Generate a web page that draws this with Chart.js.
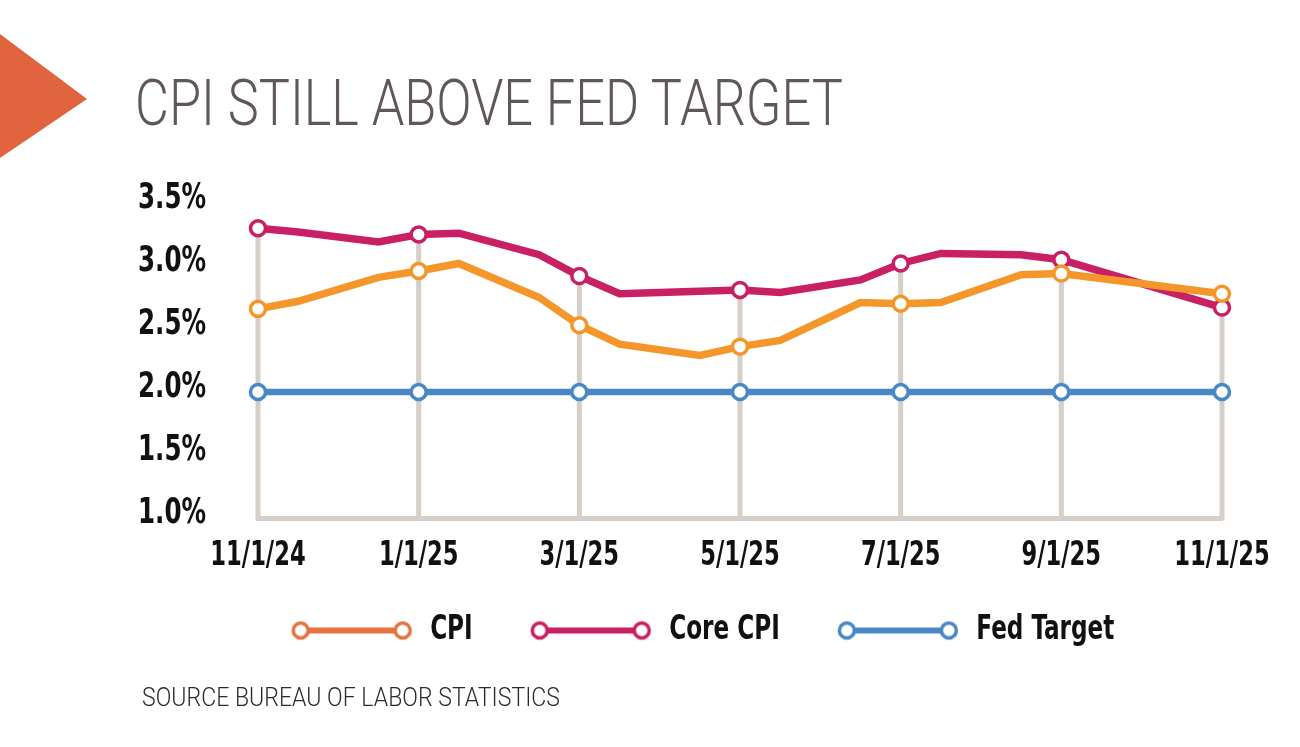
<!DOCTYPE html>
<html>
<head>
<meta charset="utf-8">
<script src="https://cdn.jsdelivr.net/npm/chart.js@4.4.0/dist/chart.umd.min.js"></script>
<style>
html,body{margin:0;padding:0;background:#fff;width:1300px;height:747px;overflow:hidden;}
#wrap{position:relative;width:1300px;height:747px;}
#tri{position:absolute;left:0;top:0;}
#title{position:absolute;left:135px;top:71px;font-family:Roboto,"Open Sans",sans-serif;font-weight:300;font-size:65px;line-height:1;color:#5f5857;white-space:nowrap;transform-origin:0 0;}
#source{position:absolute;left:142px;top:685px;font-family:Roboto,"Open Sans",sans-serif;font-weight:300;font-size:25px;line-height:1;color:#2b2b2b;white-space:nowrap;transform-origin:0 0;}
#c{position:absolute;left:0;top:0;}
</style>
</head>
<body>
<div id="wrap">
  <svg id="tri" width="100" height="170"><polygon points="0,34 87,99 0,158" fill="#E0643E"/></svg>
  <div id="title">CPI STILL ABOVE FED TARGET</div>
  <canvas id="c" width="1300" height="747"></canvas>
  <div id="source">SOURCE BUREAU OF LABOR STATISTICS</div>
</div>
<script>
// ---- data ----
const tickLabels = ['11/1/24', '1/1/25', '3/1/25', '5/1/25', '7/1/25', '9/1/25', '11/1/25'];
// x position in months after 11/1/24
const months = [0, 0.5, 1.5, 2, 2.5, 3.5, 4, 4.5, 5.5, 6, 6.5, 7.5, 8, 8.5, 9.5, 10, 12];
const cpi    = [2.66, 2.72, 2.91, 2.96, 3.02, 2.75, 2.53, 2.38, 2.29, 2.36, 2.41, 2.71, 2.70, 2.71, 2.93, 2.94, 2.78];
const core   = [3.30, 3.27, 3.19, 3.25, 3.26, 3.09, 2.92, 2.78, 2.80, 2.81, 2.79, 2.89, 3.02, 3.10, 3.09, 3.05, 2.67];
const fedMonths = [0, 2, 4, 6, 8, 10, 12];
const fed       = [2.0, 2.0, 2.0, 2.0, 2.0, 2.0, 2.0];
const seriesNames = ['CPI', 'Core CPI', 'Fed Target'];

// ---- styles ----
const COL_CPI = '#F5962A', COL_CORE = '#C91F64', COL_FED = '#4A87C6', COL_GRID = '#D6CEC7';
const LEGEND_COLS = ['#E4733F', COL_CORE, COL_FED];
const FONT_FAMILY = '"DejaVu Sans Condensed", "DejaVu Sans", sans-serif';
const X_FONT = 34, Y_FONT = 35, LEG_FONT = 33;
const STRETCH = {34: 0.74, 35: 0.78, 33: 0.78};

function fitWidth(el, w) {
  const r = el.getBoundingClientRect().width;
  el.style.transform = 'scaleX(' + (w / r) + ')';
}

// condensed rendering of canvas text (horizontal compression of the bold labels)
function condenseContext(g) {
  const fill = g.fillText.bind(g);
  const measure = g.measureText.bind(g);
  const sx = () => {
    const m = /(\d+(?:\.\d+)?)px/.exec(g.font);
    return (m && STRETCH[Math.round(+m[1])]) || 1;
  };
  g.fillText = function (t, x, y) {
    const s = sx();
    g.save(); g.translate(x, y); g.scale(s, 1); fill(t, 0, 0); g.restore();
  };
  g.measureText = function (t) {
    const m = measure(t), s = sx();
    return {width: m.width * s,
      actualBoundingBoxAscent: m.actualBoundingBoxAscent,
      actualBoundingBoxDescent: m.actualBoundingBoxDescent,
      actualBoundingBoxLeft: m.actualBoundingBoxLeft * s,
      actualBoundingBoxRight: m.actualBoundingBoxRight * s};
  };
}

function legendIcon(color) {
  const c = document.createElement('canvas');
  c.width = 124; c.height = 24;
  const g = c.getContext('2d');
  g.strokeStyle = color;
  g.lineWidth = 6;
  g.beginPath(); g.moveTo(11, 12); g.lineTo(113, 12); g.stroke();
  g.lineWidth = 3.5;
  g.fillStyle = '#fff';
  [11, 113].forEach(cx => { g.beginPath(); g.arc(cx, 12, 7.5, 0, Math.PI * 2); g.fill(); g.stroke(); });
  return c;
}

const isMarker = ctx => ctx.raw && Math.abs(ctx.raw.x % 2) < 1e-9;

const dropLines = {
  id: 'dropLines',
  beforeDatasetsDraw(chart) {
    const {ctx, scales: {x, y}} = chart;
    ctx.save();
    ctx.strokeStyle = COL_GRID;
    ctx.lineWidth = 5;
    fedMonths.forEach(m => {
      const i = months.indexOf(m);
      const top = Math.max(cpi[i], core[i]);
      const px = x.getPixelForValue(m);
      ctx.beginPath();
      ctx.moveTo(px, y.getPixelForValue(top));
      ctx.lineTo(px, y.bottom + 2);
      ctx.stroke();
    });
    ctx.restore();
  }
};

// nudge the legend block to its place under the plot
const shiftLegend = {
  id: 'shiftLegend',
  afterLayout(chart) {
    const lg = chart.legend;
    if (lg) { lg.left += 22; lg.right += 22; lg.top -= 22; lg.bottom -= 22; }
  }
};

function build() {
  fitWidth(document.getElementById('title'), 708);
  fitWidth(document.getElementById('source'), 418);

  const canvas = document.getElementById('c');
  condenseContext(canvas.getContext('2d'));

  const icons = LEGEND_COLS.map(legendIcon);
  const mk = (xs, ys) => xs.map((m, i) => ({x: m, y: ys[i]}));
  const lineDs = (label, xs, ys, color, bw) => ({
    label, data: mk(xs, ys),
    borderColor: color, borderWidth: bw, backgroundColor: color,
    pointBackgroundColor: '#fff', pointBorderColor: color, pointBorderWidth: 3.5,
    pointRadius: ctx => isMarker(ctx) ? 7.5 : 0,
    tension: 0, clip: false, fill: false
  });

  new Chart(canvas, {
    type: 'line',
    data: {
      datasets: [
        lineDs(seriesNames[0], months, cpi, COL_CPI, 7.5),
        lineDs(seriesNames[1], months, core, COL_CORE, 7.5),
        lineDs(seriesNames[2], fedMonths, fed, COL_FED, 6.5)
      ]
    },
    options: {
      responsive: false,
      devicePixelRatio: 1,
      animation: false,
      events: [],
      layout: {padding: {left: 138, right: 78, top: 203, bottom: 68}},
      scales: {
        x: {
          type: 'linear', min: 0, max: 12,
          grid: {display: false, drawTicks: false},
          border: {display: true, color: COL_GRID, width: 5},
          afterFit: s => { s.height = 62; },
          ticks: {
            stepSize: 2, padding: 18, maxRotation: 0,
            color: '#111',
            font: {family: FONT_FAMILY, size: X_FONT, weight: 'bold'},
            callback: v => tickLabels[Math.round(v / 2)]
          }
        },
        y: {
          min: 1, max: 3.5,
          grid: {display: false, drawTicks: false},
          border: {display: false},
          afterFit: s => { s.width = 120; },
          ticks: {
            stepSize: 0.5, crossAlign: 'far', labelOffset: -4,
            color: '#111',
            font: {family: FONT_FAMILY, size: Y_FONT, weight: 'bold'},
            callback: v => v.toFixed(1) + '%'
          }
        }
      },
      plugins: {
        tooltip: {enabled: false},
        legend: {
          position: 'bottom',
          labels: {
            usePointStyle: true,
            pointStyleWidth: 124,
            padding: 56,
            color: '#111',
            font: {family: FONT_FAMILY, size: LEG_FONT, weight: 'bold'},
            generateLabels(chart) {
              const items = Chart.defaults.plugins.legend.labels.generateLabels(chart);
              items.forEach((it, i) => { it.pointStyle = icons[i]; it.fontColor = '#111'; });
              return items;
            }
          }
        }
      }
    },
    plugins: [dropLines, shiftLegend]
  });
}

if (document.fonts && document.fonts.ready) document.fonts.ready.then(build); else build();
</script>
</body>
</html>
